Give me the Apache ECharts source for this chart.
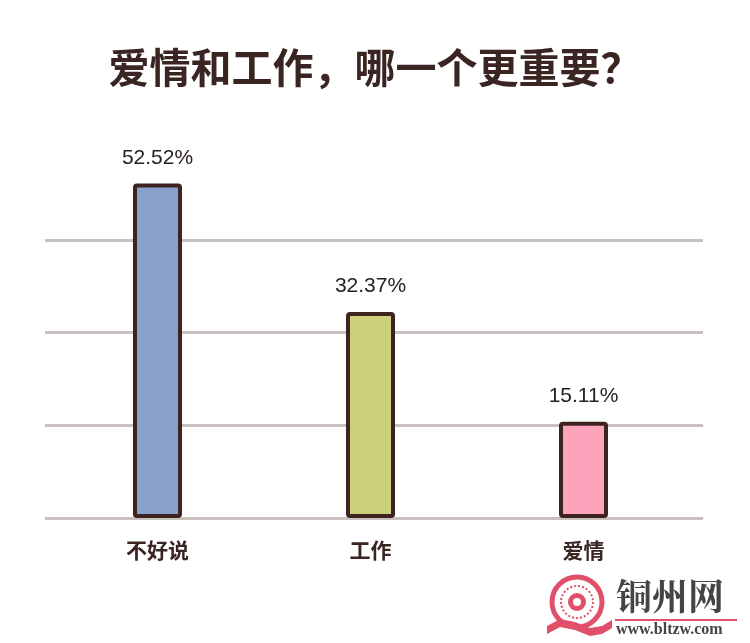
<!DOCTYPE html>
<html>
<head>
<meta charset="utf-8">
<script src="https://cdn.jsdelivr.net/npm/echarts@6/dist/echarts.min.js"></script>
<style>html,body{margin:0;padding:0;background:#fff;}#c{width:750px;height:643px;}</style>
</head>
<body>
<div id="c"></div>
<script>
var titleText = '爱情和工作，哪一个更重要？';
var categories = ['不好说', '工作', '爱情'];
var values = [52.52, 32.37, 15.11];
var barColors = ['#87a1cc', '#cdd07a', '#fda3bb'];
var gridTicks = [0, 15, 30, 45];

var border = '#3d2420';
var chart = echarts.init(document.getElementById('c'));
chart.setOption({
  backgroundColor: '#ffffff',
  animation: false,
  title: {
    text: titleText, left: 'center', top: 42,
    textStyle: { fontFamily: 'Noto Sans CJK SC', fontSize: 41, fontWeight: 'bold', color: '#3a2522' }
  },
  grid: [
    { left: 45, right: 47, top: 240, bottom: 125 },
    { left: 51, right: 60, top: 136, bottom: 125 }
  ],
  xAxis: [
    { gridIndex: 0, type: 'value', min: 0, max: 1, show: false },
    { gridIndex: 1, type: 'category', data: categories,
      axisLine: { show: false }, axisTick: { show: false },
      axisLabel: { margin: 22, fontFamily: 'Noto Sans CJK SC', fontSize: 21, fontWeight: 'bold', color: '#3a2522' } }
  ],
  yAxis: [
    { gridIndex: 0, type: 'value', min: gridTicks[0], max: gridTicks[gridTicks.length - 1], interval: gridTicks[1] - gridTicks[0],
      axisLine: { show: false }, axisTick: { show: false }, axisLabel: { show: false },
      splitLine: { show: true, lineStyle: { color: '#c9c1bd', width: 3 } } },
    { gridIndex: 1, type: 'value', min: 0, max: 60, show: false, splitLine: { show: false } }
  ],
  series: [{
    type: 'bar', xAxisIndex: 1, yAxisIndex: 1,
    data: values.map(function (v, i) {
      return { value: v, itemStyle: { color: barColors[i] } };
    }),
    barWidth: 49,
    itemStyle: { borderColor: border, borderWidth: 4, borderRadius: 2 },
    label: {
      show: true, position: 'top', distance: 15,
      formatter: function (p) { return p.value.toFixed(2) + '%'; },
      fontFamily: 'Liberation Sans', fontSize: 21, color: '#2a2020'
    }
  }],
  graphic: [
    { type: 'circle', shape: { cx: 577, cy: 602, r: 25 }, style: { fill: 'none', stroke: '#e0506a', lineWidth: 5 } },
    { type: 'circle', shape: { cx: 577, cy: 602, r: 16 }, style: { fill: 'none', stroke: '#e0506a', lineWidth: 2, lineDash: [2, 2] } },
    { type: 'circle', shape: { cx: 577, cy: 602, r: 9 }, style: { fill: '#e0506a' } },
    { type: 'circle', shape: { cx: 577, cy: 602, r: 4 }, style: { fill: '#fff' } },
    { type: 'polygon', shape: { points: [[547,626],[560,619],[575,622],[590,628],[602,626],[612,620],[612,628],[602,634],[590,636],[575,630],[560,627],[547,634]] }, style: { fill: '#e0506a' } },
    { type: 'text', left: 616, top: 578, style: { text: '铜州网', fontFamily: 'Noto Serif CJK SC, Noto Sans CJK SC', fontSize: 36, fontWeight: 'bold', fill: '#444444' } },
    { type: 'rect', shape: { x: 615, y: 619, width: 122, height: 2 }, style: { fill: '#e0506a' } },
    { type: 'text', left: 616, top: 622, style: { text: 'www.bltzw.com', fontFamily: 'Liberation Serif', fontSize: 16, fontWeight: 'bold', fill: '#444444' } }
  ]
});
</script>
</body>
</html>
